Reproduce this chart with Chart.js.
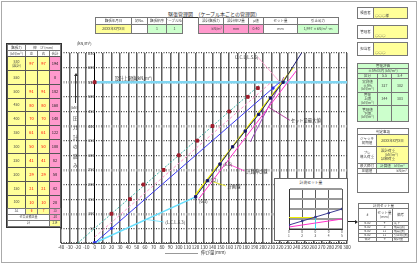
<!DOCTYPE html>
<html><head><meta charset="utf-8">
<script src="https://cdn.jsdelivr.net/npm/chart.js@4/dist/chart.umd.min.js"></script>
<style>
html,body{margin:0;padding:0;background:#fff;}
body{width:420px;height:270px;position:relative;overflow:hidden;font-family:"Noto Sans CJK JP","Noto Sans",sans-serif;}
.c{position:absolute;box-sizing:border-box;border:1px solid #777;display:flex;align-items:center;justify-content:center;text-align:center;line-height:1.1;color:#444;white-space:pre;overflow:hidden;font-size:3.5px;padding:0 1px;}
.t{position:absolute;white-space:nowrap;color:#333;line-height:1;}
canvas{position:absolute;}
</style>
</head><body>
<div style="position:absolute;left:1px;top:1px;width:416px;height:262px;border:1px solid #aaa;box-sizing:border-box;"></div>
<div class="t" style="left:166px;top:11px;width:96px;font-size:5px;text-align:center;border-bottom:1px solid #333;padding-bottom:1px;">緊張管理図　（ケーブル本ごとの管理図）</div>

<canvas id="main" width="310" height="212" style="left:50px;top:44px;"></canvas>
<div style="position:absolute;left:274px;top:178px;width:74px;height:63px;border:1px solid #666;box-sizing:border-box;background:#fff;"></div>
<div class="t" style="left:274px;top:181px;width:74px;text-align:center;font-size:3.8px;">計測セット量</div>
<canvas id="inset" width="72" height="56" style="left:275px;top:184px;"></canvas>
<div style="position:absolute;left:348px;top:221px;width:8px;height:1px;background:#222;"></div>
<div style="position:absolute;left:355px;top:219.5px;width:0;height:0;border-top:2px solid transparent;border-bottom:2px solid transparent;border-left:3px solid #222;"></div>

<div class="t" style="left:77px;top:41px;font-size:4px;">(kN/m²)</div>
<div style="position:absolute;left:75px;top:76px;width:1px;height:27px;background:#333;"></div>
<div style="position:absolute;left:73.5px;top:73px;width:0;height:0;border-left:2px solid transparent;border-right:2px solid transparent;border-bottom:3px solid #333;"></div>
<div id="vtext"></div>
<div style="position:absolute;left:165px;top:252.5px;width:33px;height:1.5px;background:#999;"></div>
<div class="t" style="left:201px;top:250px;font-size:4.5px;">伸び量(mm)</div>

<script>
// ---------- data ----------
const xMin = -40, xMax = 300, xStep = 10;
const yMin = 0, yMax = 650, yStep = 50;
const pressureMeasured = [100,150,200,250,300,350,400,450,500,530];
const elongationMeasured = [20,42,58,82,100,122,140,160,182,194];
const trendElong = [-20,196];
const trendPressure = [0,540];
const designLimit = 550;
const limitElong = [0,300];
const theoryElong = [0,20,212,220];
const theoryPressure = [0,50,530,550];
const theory2Elong = [0,210];
const theory2Pressure = [20,550];
const initialElong = [0,120];
const initialPressure = [0,158];
const setElong = [120,134,149,164,179,195,209,224,246];
const setPressure = [158,213,270,329,383,440,496,550,650];
const upperElong = [120,236];
const upperPressure = [165,600];
const lowerElong = [124,240];
const lowerPressure = [152,590];
const maxSetElong = [185,225];
const maxSetPressure = [346,568];
const leaderOclElong = [194,220], leaderOclPressure = [636,551];
const leaderMaxElong = [206,232], leaderMaxPressure = [466,420];
const leaderCalcElong = [159,178], leaderCalcPressure = [270,247];
const leaderPlanElong = [141,156], leaderPlanPressure = [209,195];
const leaderInitElong = [60,82], leaderInitPressure = [81,72];
const annotTexts = ['設計上限値(kN/m²)','O.C.L(L.S.6)','セット量最大値','計算伸び線','計画線','(L.C.L.6.3)','(6.3)','(6.2)','(6.6)'];
const annotElong = [24,167,233,180,158,84,124,136,153];
const annotPressure = [562,636,420,246,195,72,141,213,270];

const insetX = [0,1,2,3,4];
const insetMeasured = [4,8,12,16,20];
const insetCalc = [2,4,6,8,10];
const insetYellowX = [0,2], insetYellowY = [11.5,11.5];
const insetCyanX = [2,2], insetCyanY = [0,11.5];
const insetXLabels = [['0','1'],['0','2'],['0','3'],['0','4'],['0','5']];

const tablePressure = ['530\n(設計)','550','500','450','400','350','300','250','200','150','100'];
const tableLeft = ['97','','91','80','70','61','50','41','29','21','10'];
const tableRight = ['97','','91','80','70','61','50','41','29','21','10'];
const tableTotal = ['194','0','182','160','140','122','100','82','58','42','20'];
const setRows = [['6-00','4','沈下'],['6-00','3','確認(表)'],['6-00','11','確認(裏)'],['6-00','11','引止め(裏)'],['合計','9','総計量']];
const vChars = ['(kN)','圧','力','計','の','読','み'];

// ---------- html cells ----------
function cellE(x1,y1,x2,y2,text,o={}){
  const d=document.createElement('div');
  d.className='c';
  d.style.left=x1+'px'; d.style.top=y1+'px';
  d.style.width=(x2-x1+1)+'px'; d.style.height=(y2-y1+1)+'px';
  if(o.bg) d.style.background=o.bg;
  if(o.color) d.style.color=o.color;
  if(o.fs) d.style.fontSize=o.fs+'px';
  if(o.al) d.style.justifyContent=o.al;
  if(o.va) d.style.alignItems=o.va;
  if(o.bc) d.style.borderColor=o.bc;
  d.textContent=text;
  document.body.appendChild(d);
}
const Y='#ffff99', P='#ff99cc', G='#ccffcc', R='#ff0000';
cellE(95,17,131,24,'緊張年月日'); cellE(131,17,147,24,'初No.'); cellE(147,17,166,24,'緊張順序'); cellE(166,17,182,24,'ケーブルNo.');
cellE(95,24,131,33,'20XX年X月X日',{bg:Y}); cellE(131,24,147,33,''); cellE(147,24,166,33,'1',{bg:G}); cellE(166,24,182,33,'1',{bg:G});
cellE(198,17,223,24,'設計緊張力'); cellE(223,17,248,24,'設計伸び量'); cellE(248,17,263,24,'μ値'); cellE(263,17,297,24,'セット量'); cellE(297,17,338,24,'引止め力');
cellE(198,24,223,33,'kN/m²',{bg:P,al:'flex-end'}); cellE(223,24,248,33,'mm',{bg:P}); cellE(248,24,263,33,'0.40',{bg:P}); cellE(263,24,297,33,'mm'); cellE(297,24,338,33,'1,997 ×kN/m²·m',{bg:G});
[['検査者','○○○様',7,18],['管理者','○○○',25,38],['担当者','○○○',42,55]].forEach(b=>{
  cellE(357,b[2],373,b[3],b[0]); cellE(373,b[2],407,b[3],b[1],{bg:Y,al:'flex-start',va:'flex-end'});
});
cellE(357,63,408,68,'管理評価',{bg:G}); cellE(357,68,408,73,'±5%以内 (kN/m²)',{bg:G});
cellE(357,73,377,78,'区分',{bg:G}); cellE(377,73,391,78,'5.5',{bg:G}); cellE(391,73,408,78,'5.4',{bg:G});
cellE(357,78,377,92,'実測値\n±5%\n(kN/m²)',{bg:G}); cellE(377,78,391,92,'327',{bg:G}); cellE(391,78,408,92,'302',{bg:G});
cellE(357,92,377,105,'管理\n上限\n(kN/m²)',{bg:G}); cellE(377,92,391,105,'344',{bg:G}); cellE(391,92,408,105,'303',{bg:G});
cellE(357,105,377,121,'管理値\n下限\n(kN/m²)',{bg:G}); cellE(377,105,391,121,'',{bg:G}); cellE(391,105,408,121,'',{bg:G});
cellE(357,128,408,134,'判定事項');
cellE(357,134,376,146,'ジャッキ\n初期値'); cellE(376,134,408,146,'20XX年X月X日',{bg:Y});
cellE(357,146,376,163,'プレ\n導入荷重'); cellE(376,146,408,163,'設計荷重\n　　(kN/m²)\n試験荷重',{bg:Y,al:'flex-start'});
cellE(357,163,376,168,'最大締付'); cellE(376,163,408,168,'計算値　kN/m²',{bg:G});
cellE(357,168,376,173,'圧縮値'); cellE(376,168,408,173,'kN/m²',{al:'flex-end'});
cellE(357,173,408,192,'');
cellE(358,203,408,208,'計測セット量');
cellE(358,208,376,221,'#'); cellE(376,208,392,221,'セット量\n(mm)'); cellE(392,208,408,221,'備考');
setRows.forEach((r,i)=>{const y1=221+i*4; cellE(358,y1,376,y1+4,r[0],{fs:3}); cellE(376,y1,392,y1+4,r[1],{fs:3}); cellE(392,y1,408,y1+4,r[2],{fs:3,al:'flex-start'});});
cellE(7,44,25,50,'緊張力'); cellE(7,50,25,56,'(kN/m²)');
cellE(25,44,60,50,'伸　び (mm)');
cellE(25,50,37,56,'左'); cellE(37,50,49,56,'右'); cellE(49,50,60,56,'合計');
tablePressure.forEach((p,i)=>{
  const y1=Math.round(56+i*13.85), y2=Math.round(56+(i+1)*13.85);
  cellE(7,y1,25,y2,p,{bg:Y,bc:'#555'});
  cellE(25,y1,37,y2,tableLeft[i],{bg:Y,color:R,fs:4,bc:'#555'});
  cellE(37,y1,49,y2,tableRight[i],{bg:Y,color:R,fs:4,bc:'#555'});
  cellE(49,y1,60,y2,tableTotal[i],{bg:P,color:'#222',fs:4,bc:'#555'});
});
cellE(7,208,25,214,'ΔL',{fs:3}); cellE(25,208,37,214,'6',{color:R,fs:3,bg:Y}); cellE(37,208,49,214,'7',{color:R,fs:3,bg:Y}); cellE(49,208,60,214,'13',{fs:3,bg:P});
cellE(7,214,49,220,'ゼロ点補正量',{fs:3}); cellE(49,214,60,220,'-20',{fs:3,bg:P});
cellE(7,220,49,226,'計',{fs:3}); cellE(49,220,60,226,'214',{fs:3,bg:Y});
(function(){const d=document.createElement('div');d.style.cssText='position:absolute;left:6px;top:43px;width:56px;height:185px;border:1.5px solid #333;box-sizing:border-box;';document.body.appendChild(d);})();
const vt=document.getElementById('vtext');
vChars.forEach((ch,i)=>{const d=document.createElement('div');d.className='t';d.style.cssText+='left:'+(ch.length>1?71:73)+'px;top:'+(106+i*9.5)+'px;font-size:'+(ch.length>1?3.5:4.5)+'px;';d.textContent=ch;vt.appendChild(d);});

// ---------- charts ----------
Chart.defaults.font.family = '"Noto Sans CJK JP","Noto Sans",sans-serif';
const pts=(xs,ys)=>xs.map((x,i)=>({x,y:ys[i]}));
const line=(xs,ys,color,w,extra={})=>Object.assign({data:pts(xs,ys),showLine:true,borderColor:color,backgroundColor:color,borderWidth:w,pointRadius:0},extra);
const thick=[100,250,400,550];

const annotPlugin={id:'annot',afterDatasetsDraw(chart){
  const {ctx,scales:{x,y}}=chart;
  ctx.save(); ctx.font='4.3px "Noto Sans CJK JP"'; ctx.textBaseline='middle'; ctx.fillStyle='#333';
  annotTexts.forEach((t,i)=>ctx.fillText(t,x.getPixelForValue(annotElong[i]),y.getPixelForValue(annotPressure[i])));
  ctx.restore();
}};

new Chart(document.getElementById('main'),{
  type:'scatter',
  data:{datasets:[
    {data:pts([0],[designLimit]),pointStyle:'rect',pointRadius:2,backgroundColor:'#a01c2c',borderColor:'#a01c2c'},
    {data:pts(elongationMeasured,pressureMeasured),pointStyle:'rect',pointRadius:2,backgroundColor:'#a01c2c',borderColor:'#a01c2c'},
    line(setElong,setPressure,'#1a1a70',1,{pointStyle:'rect',pointRadius:[1.6,1.6,1.6,1.6,1.6,1.6,1.6,1.6,0],backgroundColor:'#101050'}),
    line(theoryElong,theoryPressure,'#3a3af0',1,{pointStyle:'rect',pointRadius:[1.8,1.2,1.5,0],backgroundColor:'#2020d0'}),
    line(trendElong,trendPressure,'#3fb0a4',1,{borderDash:[2,1.5]}),
    line(theory2Elong,theory2Pressure,'#ff99cc',1,{borderDash:[3,2]}),
    line(upperElong,upperPressure,'#eded00',1.4),
    line(lowerElong,lowerPressure,'#ff33cc',1),
    line(maxSetElong,maxSetPressure,'#a050c0',1),
    line(initialElong,initialPressure,'#66e0ff',1.5),
    line(leaderOclElong,leaderOclPressure,'#ff99cc',0.8),
    line(leaderMaxElong,leaderMaxPressure,'#a0208a',0.8),
    line(leaderCalcElong,leaderCalcPressure,'#ff33cc',0.8),
    line(leaderPlanElong,leaderPlanPressure,'#e6e600',0.8),
    line(leaderInitElong,leaderInitPressure,'#66e0ff',0.8),
    line(limitElong,[designLimit,designLimit],'#80d6f2',2.5)
  ]},
  options:{
    responsive:false,animation:false,devicePixelRatio:1,
    layout:{padding:{left:11,right:13,top:9,bottom:5}},
    plugins:{legend:{display:false},tooltip:{enabled:false}},
    scales:{
      x:{type:'linear',min:xMin,max:xMax,
        ticks:{stepSize:xStep,autoSkip:false,maxRotation:0,font:{size:4.5},color:'#333',padding:2},
        grid:{color:c=>c.tick&&c.tick.value===0?'rgba(0,0,0,0)':'#5e5e5e',lineWidth:1.5,drawTicks:false},
        border:{display:true,color:'#555'},
        afterFit(s){s.height=8;s.paddingLeft=0;s.paddingRight=0;}},
      y:{type:'linear',min:yMin,max:yMax,position:{x:0},
        ticks:{stepSize:yStep,font:{size:4},color:'#333',padding:2},
        grid:{color:c=>c.tick&&thick.includes(c.tick.value)?'#999':'#444',lineWidth:c=>c.tick&&thick.includes(c.tick.value)?2.5:1.2,drawTicks:false},
        border:{display:true,color:'#000',width:1,dash:[1,1.5]},
        afterFit(s){s.paddingTop=0;s.paddingBottom=0;}}
    }
  },
  plugins:[annotPlugin]
});

new Chart(document.getElementById('inset'),{
  type:'scatter',
  data:{datasets:[
    line(insetX,insetMeasured,'#3a3a90',1,{pointStyle:'rect',pointRadius:1,backgroundColor:'#202070'}),
    line(insetX,insetCalc,'#ff33cc',1),
    line(insetYellowX,insetYellowY,'#eded00',1),
    line(insetCyanX,insetCyanY,'#33ddee',1)
  ]},
  options:{
    responsive:false,animation:false,devicePixelRatio:1,
    layout:{padding:{left:14,right:4,top:4,bottom:1}},
    plugins:{legend:{display:false},tooltip:{enabled:false}},
    scales:{
      x:{type:'linear',min:0,max:4,
        ticks:{stepSize:1,autoSkip:false,maxRotation:0,font:{size:3.2},color:'#444',padding:1,callback:v=>insetXLabels[v]},
        grid:{color:'#333',lineWidth:0.8,drawTicks:false},border:{color:'#333'},
        afterFit(s){s.height=10;s.paddingLeft=0;s.paddingRight=0;}},
      y:{type:'linear',min:0,max:40,
        ticks:{stepSize:5,font:{size:3.2},color:'#444',padding:1},
        grid:{color:c=>c.tick&&c.tick.value%10===0?'#999':'#555',lineWidth:c=>c.tick&&c.tick.value%10===0?2:0.8,drawTicks:false},border:{color:'#333'},
        afterFit(s){s.width=0;s.paddingTop=0;s.paddingBottom=0;}}
    }
  }
});
</script>
</body></html>
